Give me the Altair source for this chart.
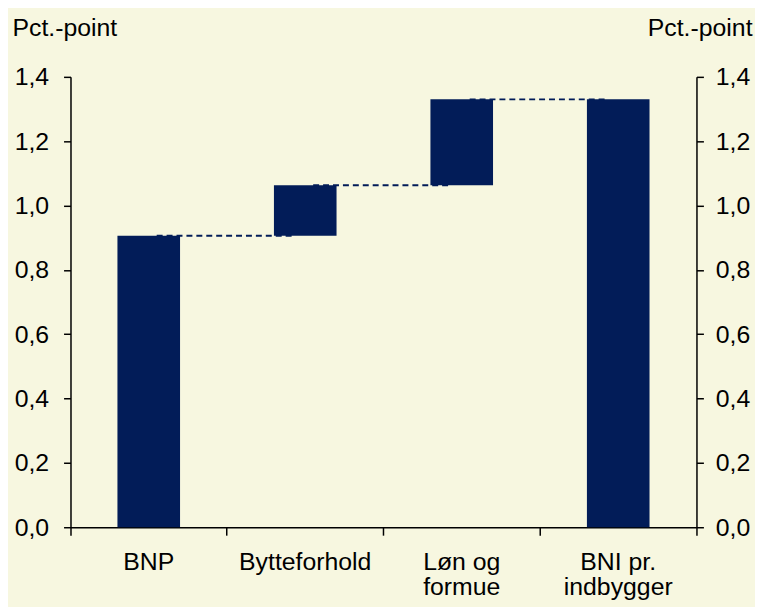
import altair as alt
import pandas as pd

# Data
categories = ["BNP", "Bytteforhold", "Løn og\nformue", "BNI pr.\nindbygger"]
values = [0.906, 0.157, 0.267, 1.330]
is_total = [True, False, False, True]
y_ticks = [0.0, 0.2, 0.4, 0.6, 0.8, 1.0, 1.2, 1.4]
y_title = "Pct.-point"

# Build waterfall table
rows = []
level = 0.0
for cat, v, tot in zip(categories, values, is_total):
    if tot:
        base, end = 0.0, v
    else:
        base, end = level, level + v
    level = end
    rows.append({"cat": cat, "base": base, "end": end})
df = pd.DataFrame(rows)

conn = pd.DataFrame({
    "cat": categories[:-1],
    "cat2": categories[1:],
    "level": [r["end"] for r in rows[:-1]],
})

BG = "#F7F7E0"
NAVY = "#021C58"
FONT = "Liberation Sans"
FS = 25
label_expr_y = "replace(format(datum.value, '.1f'), '.', ',')"

xscale = alt.Scale(domain=categories, paddingInner=0, paddingOuter=0)
yscale = alt.Scale(domain=[0, 1.4], nice=False, zero=True)

bars = alt.Chart(df).mark_bar(color=NAVY, width={"band": 0.4}).encode(
    x=alt.X("cat:N", sort=categories, scale=xscale, title=None,
            axis=alt.Axis(labelAngle=0, bandPosition=1, tickExtra=True,
                          labelExpr="split(datum.label, '\\n')",
                          labelLineHeight=25, labelPadding=15, tickSize=8,
                          labelFont=FONT, labelFontSize=FS, labelColor="black",
                          domainColor="black", tickColor="black",
                          domainWidth=1.5, tickWidth=1.5, labelBaseline="top")),
    y=alt.Y("base:Q", scale=yscale,
            axis=alt.Axis(orient="left", values=y_ticks, labelExpr=label_expr_y,
                          tickSize=7, labelPadding=15, grid=False,
                          labelFont=FONT, labelFontSize=FS, labelColor="black",
                          domainColor="black", tickColor="black",
                          domainWidth=1.5, tickWidth=1.5,
                          title=y_title, titleAngle=0, titleAlign="left",
                          titleBaseline="alphabetic", titleX=-59, titleY=-42,
                          titleFont=FONT, titleFontSize=FS, titleFontWeight="normal",
                          titleColor="black")),
    y2="end:Q",
)

rules = alt.Chart(conn).mark_rule(color=NAVY, strokeDash=[6, 4], strokeWidth=2,
                                   xOffset=8, x2Offset=-10).encode(
    x=alt.X("cat:N", sort=categories, scale=xscale),
    x2="cat2:N",
    y=alt.Y("level:Q", scale=yscale,
            axis=alt.Axis(orient="right", values=y_ticks, labelExpr=label_expr_y,
                          tickSize=7, labelPadding=12, grid=False,
                          labelFont=FONT, labelFontSize=FS, labelColor="black",
                          domainColor="black", tickColor="black",
                          domainWidth=1.5, tickWidth=1.5,
                          title=y_title, titleAngle=0, titleAlign="right",
                          titleBaseline="alphabetic", titleX=56, titleY=-42,
                          titleFont=FONT, titleFontSize=FS, titleFontWeight="normal",
                          titleColor="black")),
)

chart = alt.layer(bars, rules).resolve_scale(y="independent").properties(
    width=631, height=454,
    background=BG,
    padding={"left": 63, "top": 67, "right": 59, "bottom": 78},
    autosize=alt.AutoSizeParams(type="none"),
).configure_view(strokeWidth=0)

chart.save("out.html", embed_options={"renderer": "svg", "actions": False})
